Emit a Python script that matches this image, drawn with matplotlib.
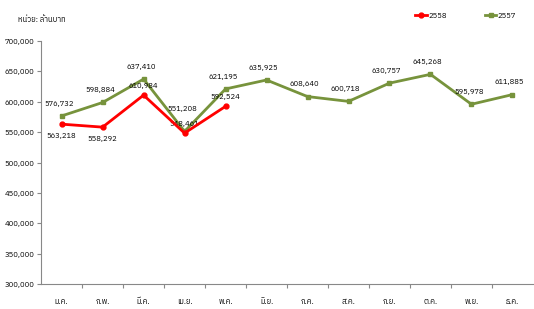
import matplotlib
matplotlib.use("Agg")
import matplotlib.pyplot as plt
from matplotlib import font_manager
from matplotlib.ft2font import FT2Font

months = ["ม.ค.", "ก.พ.", "มี.ค.", "เม.ย.", "พ.ค.", "มิ.ย.", "ก.ค.", "ส.ค.", "ก.ย.", "ต.ค.", "พ.ย.", "ธ.ค."]
y2557 = [576732, 598884, 637410, 551208, 621195, 635925, 608640, 600718, 630757, 645268, 595978, 611885]
y2558 = [563218, 558292, 610984, 548461, 592524]
red_label_below = [True, True, False, False, False]

# find a font with Thai glyphs
thai_family = None
for path in font_manager.findSystemFonts():
    try:
        f = FT2Font(path)
        if f.get_char_index(0x0E01) and f.get_char_index(0x0E21):
            thai_family = font_manager.FontProperties(fname=path).get_name()
            if "Sans" in thai_family:
                break
    except Exception:
        pass
fams = ([thai_family] if thai_family else []) + ["DejaVu Sans"]
plt.rcParams["font.family"] = fams

fig = plt.figure(figsize=(5.34, 3.09), dpi=100)
ax = fig.add_axes([0.077, 0.081, 0.921, 0.786])

x = list(range(len(months)))
green = "#77933C"
red = "#FF0000"
ax.plot(x, y2557, color=green, lw=2, marker="s", ms=3.5, label="2557", zorder=3)
ax.plot(x[:len(y2558)], y2558, color=red, lw=2, marker="o", ms=3.5, label="2558", zorder=4)

for xi, v in zip(x, y2557):
    dy = 13 if xi == 3 else 6
    ax.annotate(f"{v:,}", (xi, v), xytext=(-2, dy), textcoords="offset points",
                ha="center", va="bottom", fontsize=5.5)
for xi, v, below in zip(x, y2558, red_label_below):
    ax.annotate(f"{v:,}", (xi, v), xytext=(0, -6 if below else 4), textcoords="offset points",
                ha="center", va="top" if below else "bottom", fontsize=5.5)

ax.set_xlim(-0.5, 11.5)
ax.set_ylim(300000, 700000)
ax.set_yticks(range(300000, 700001, 50000))
ax.set_yticklabels([f"{v:,}" for v in range(300000, 700001, 50000)], fontsize=5.5)
ax.set_xticks([i + 0.5 for i in range(11)])
ax.set_xticklabels([])
ax.set_xticks(x, minor=True)
ax.set_xticklabels(months, minor=True, fontsize=5.5)
ax.tick_params(axis="x", which="minor", length=0, pad=10)
ax.tick_params(axis="x", which="major", length=3, color="#888888")
ax.tick_params(axis="y", length=3, color="#888888", pad=2)
for s in ["top", "right"]:
    ax.spines[s].set_visible(False)
for s in ["left", "bottom"]:
    ax.spines[s].set_color("#888888")

h, l = ax.get_legend_handles_labels()
ax.legend(h[::-1], l[::-1], loc="upper right", bbox_to_anchor=(0.98, 1.15), ncol=2,
          frameon=False, fontsize=5.5, handlelength=1.5, columnspacing=5, handletextpad=0.2)

fig.text(0.034, 0.935, "หน่วย: ล้านบาท", fontsize=5.5, va="center")

fig.savefig("out.png", dpi=100)
